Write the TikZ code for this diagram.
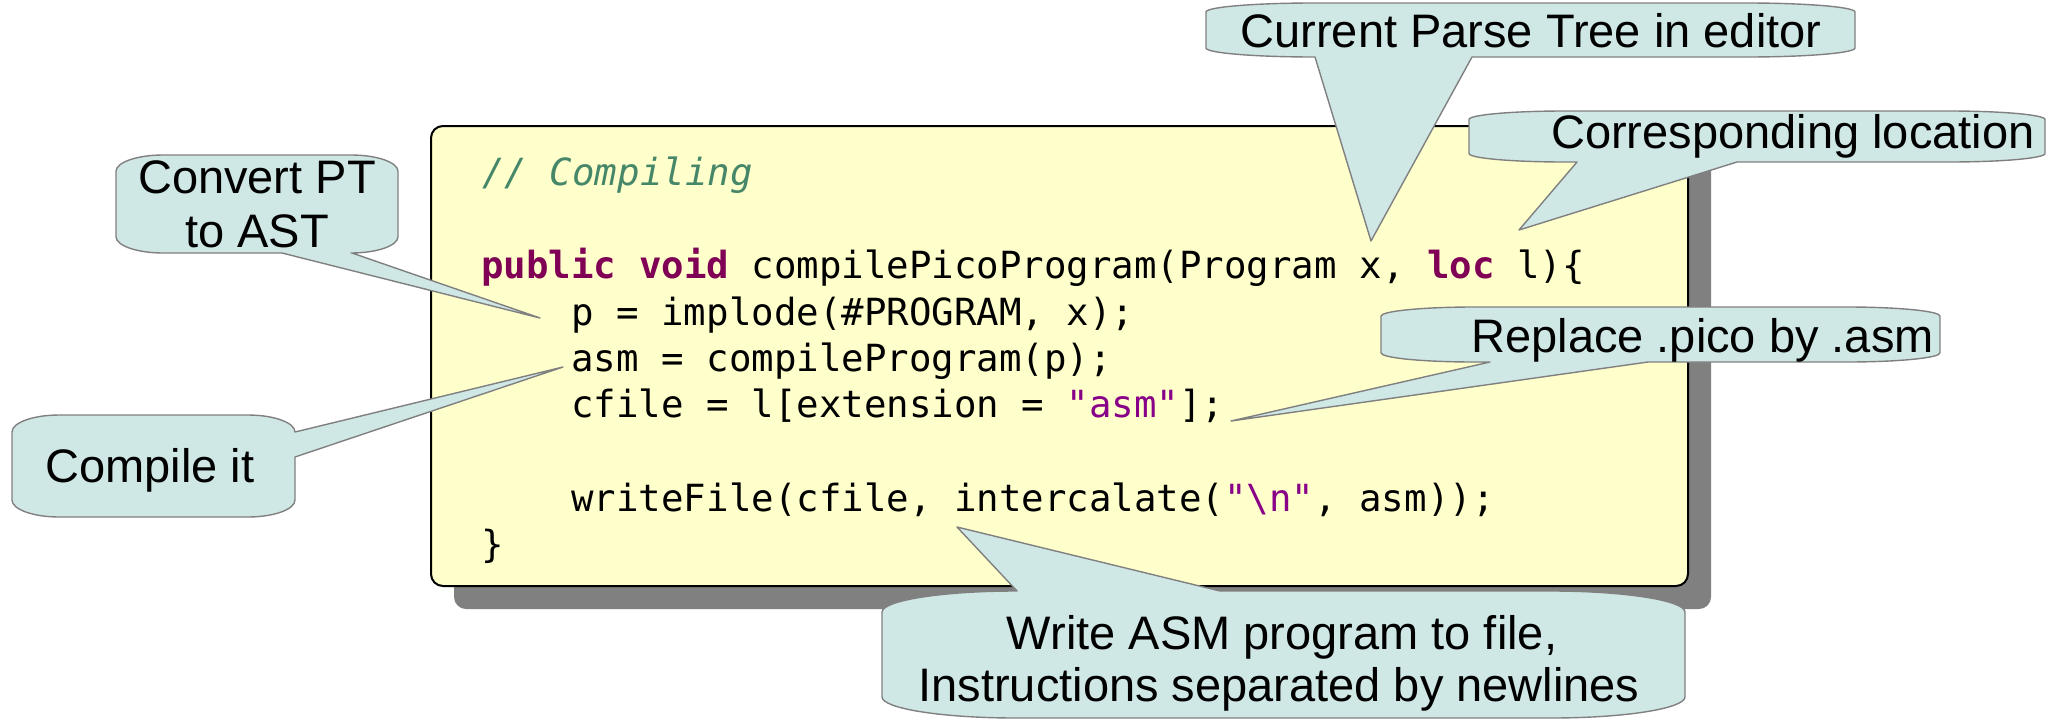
\documentclass[tikz,border=0pt]{standalone}
\usepackage{fontspec}
\newfontfamily\codefont{DejaVu Sans Mono}
\newfontfamily\notefont{Liberation Sans}

\definecolor{codeyellow}{RGB}{255,255,204}
\definecolor{shadowgray}{RGB}{128,128,128}
\definecolor{notefill}{RGB}{207,231,229}
\definecolor{noteline}{RGB}{128,128,128}
\definecolor{kwcol}{RGB}{127,0,85}
\definecolor{strcol}{RGB}{136,0,136}
\definecolor{comcol}{RGB}{70,135,105}

\tikzset{
  codebox/.style={fill=codeyellow, draw=black, line width=1pt, rounded corners=6pt},
  codeshadow/.style={fill=shadowgray, rounded corners=6pt},
  codeline/.style={anchor=base west, inner sep=0pt,
    font=\codefont\fontsize{18.7}{22}\selectfont},
  notetext/.style={anchor=base, inner sep=0pt,
    font=\notefont\fontsize{23.5}{27}\selectfont},
  noteshape/.style={fill=notefill, draw=noteline, line width=0.7pt, line join=round},
}

% Callout body with elliptical corners (radii = 1/6 of width and height);
% #1..#4 = left, top, right, bottom; #5..#8 = pointer pieces on the
% top, right, bottom and left edges (traversed clockwise).
\newcommand\calloutpath[8]{%
  \pgfmathsetmacro\crx{(#3-#1)/6}%
  \pgfmathsetmacro\cry{(#4-#2)/6}%
  \path[noteshape]
    (#1,#2+\cry) .. controls (#1,#2+0.448*\cry) and (#1+0.448*\crx,#2) .. (#1+\crx,#2)
    #5 -- (#3-\crx,#2)
    .. controls (#3-0.448*\crx,#2) and (#3,#2+0.448*\cry) .. (#3,#2+\cry)
    #6 -- (#3,#4-\cry)
    .. controls (#3,#4-0.448*\cry) and (#3-0.448*\crx,#4) .. (#3-\crx,#4)
    #7 -- (#1+\crx,#4)
    .. controls (#1+0.448*\crx,#4) and (#1,#4-0.448*\cry) .. (#1,#4-\cry)
    #8 -- cycle;
}

\begin{document}
\begin{tikzpicture}[x=0.5pt, y=-0.5pt]
\useasboundingbox (0,0) rectangle (2052,723);

% code panel with its drop shadow
\path[codeshadow] (454,149) rectangle (1711,609);
\path[codebox] (431,126) rectangle (1688,586);

% source lines
\node[codeline, font=\codefont\itshape\fontsize{18.7}{22}\selectfont, text=comcol] (c0) at (482,185) {// Compiling};
\node[codeline] (c1) at (481,278) {{\bfseries\color{kwcol}public void} compilePicoProgram(Program x, {\bfseries\color{kwcol}loc} l)\{};
\node[codeline] (c2) at (571,325) {p = implode(\#PROGRAM, x);};
\node[codeline] (c3) at (571,371) {asm = compileProgram(p);};
\node[codeline] (c4) at (571,417) {cfile = l[extension = {\color{strcol}"asm"}];};
\node[codeline] (c5) at (571,511) {writeFile(cfile, intercalate({\color{strcol}"\textbackslash n"}, asm));};
\node[codeline] (c6) at (481,557) {\}};

% callouts
\calloutpath{1206}{3}{1855}{57}{}{}{-- (1472,57) -- (1371,241) -- (1315,57)}{}
\calloutpath{1469}{111}{2045}{162}{}{}{-- (1737,162) -- (1519,230) -- (1577,162)}{}
\calloutpath{116}{155}{398}{253}{}{}{-- (352,253) -- (540,318) -- (282,253)}{}
\calloutpath{12}{415}{295}{517}{}{-- (295,432) -- (563,367) -- (295,457)}{}{}
\calloutpath{1381}{307}{1940}{362}{}{}{-- (1648,362) -- (1231,421) -- (1490,362)}{}
\calloutpath{882}{591}{1685}{718}{-- (1017,591) -- (957,527) -- (1220,591)}{}{}{}

% callout texts
\node[notetext] (n1) at (1531,47) {Current Parse Tree in editor};
\node[notetext, anchor=base east] (n2) at (2035,148) {Corresponding location};
\node[notetext] (n3a) at (257,193) {Convert PT};
\node[notetext] (n3b) at (257,247) {to AST};
\node[notetext] (n4) at (150,482) {Compile it};
\node[notetext, anchor=base west] (n5) at (1471,352) {Replace .pico by .asm};
\node[notetext] (n6a) at (1282,649) {Write ASM program to file,};
\node[notetext] (n6b) at (1279,701) {Instructions separated by newlines};
\end{tikzpicture}
\end{document}
